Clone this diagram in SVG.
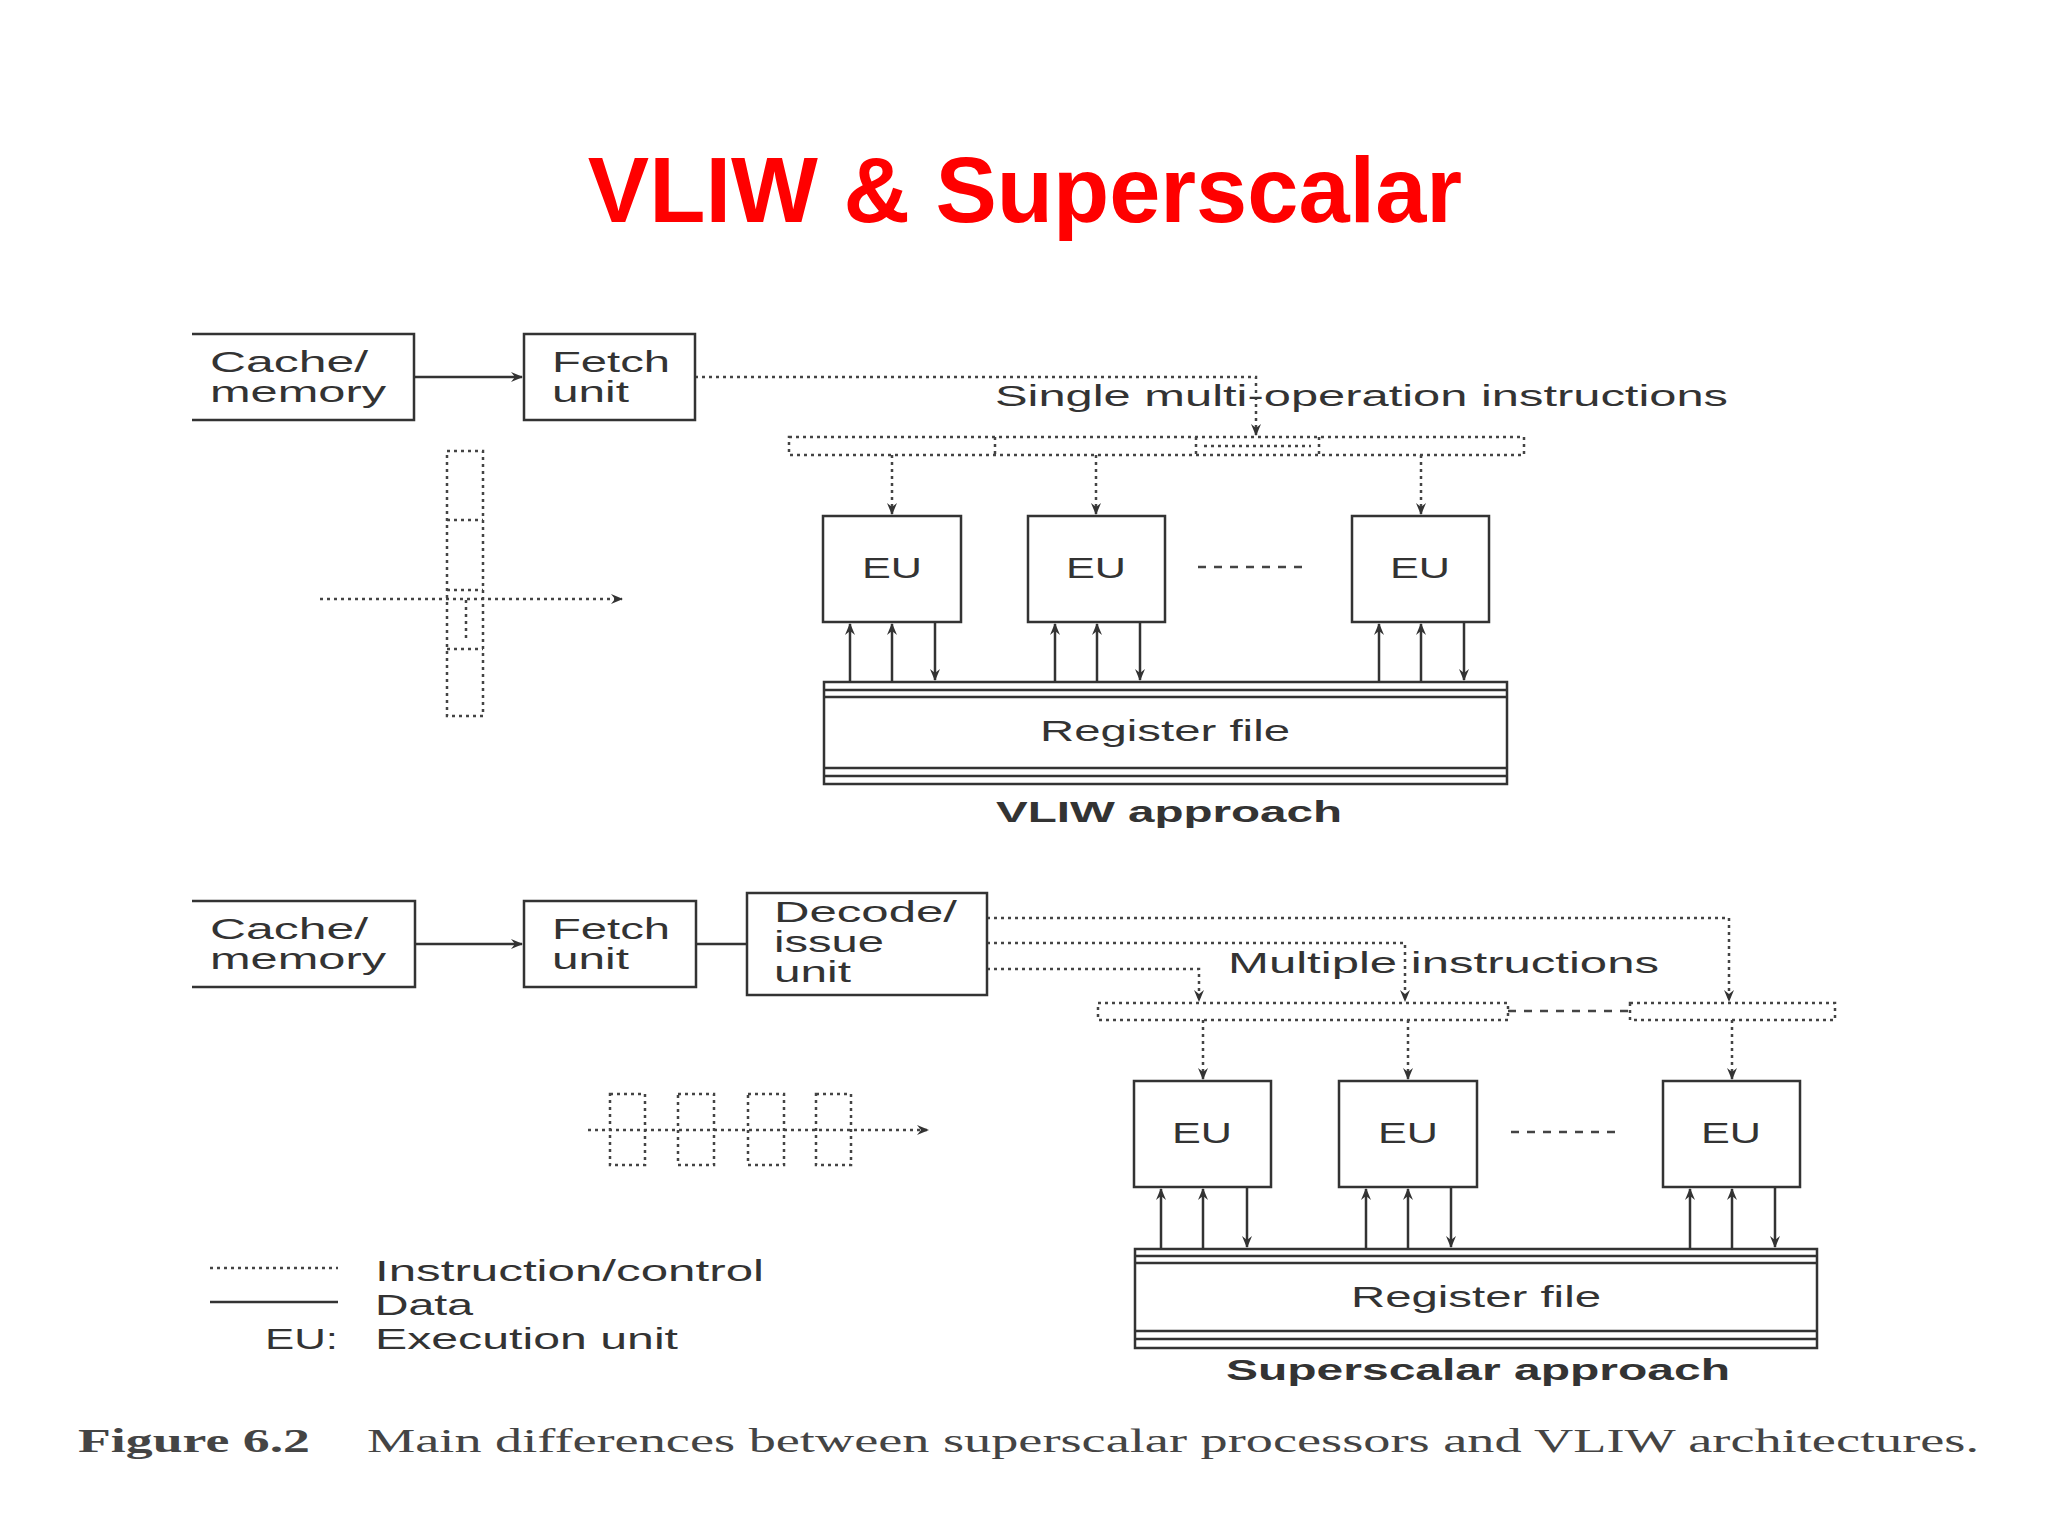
<svg xmlns="http://www.w3.org/2000/svg" width="2048" height="1536" viewBox="0 0 2048 1536">
<style>
.b{fill:none;stroke:#333;stroke-width:2.5}
.s{fill:none;stroke:#333;stroke-width:2.5}
.d{fill:none;stroke:#444;stroke-width:2.5;stroke-dasharray:3 4}
.t{font-family:"Liberation Sans",Arial,sans-serif;font-size:30px;fill:#333}
.bo{font-weight:bold}
</style>
<defs>
<marker id="a" markerWidth="12" markerHeight="10" refX="11" refY="5" orient="auto" markerUnits="userSpaceOnUse"><path d="M0,0 L12,5 L0,10 L4,5 Z" fill="#333"/></marker>
</defs>
<rect width="2048" height="1536" fill="#fff"/>
<text x="1025" y="222" text-anchor="middle" font-family="Liberation Sans,Arial,sans-serif" font-weight="bold" font-size="92" fill="#f00">VLIW &amp; Superscalar</text>

<g id="connectors">
<line class="s" x1="414" y1="377" x2="522" y2="377" marker-end="url(#a)"/>
<path class="d" d="M695,377 H1256 V435" marker-end="url(#a)"/>
<line class="d" x1="892" y1="455" x2="892" y2="514" marker-end="url(#a)"/>
<line class="d" x1="1096" y1="455" x2="1096" y2="514" marker-end="url(#a)"/>
<line class="d" x1="1421" y1="455" x2="1421" y2="514" marker-end="url(#a)"/>
<g class="s">
<line x1="850" y1="682" x2="850" y2="624" marker-end="url(#a)"/>
<line x1="892" y1="682" x2="892" y2="624" marker-end="url(#a)"/>
<line x1="935" y1="622" x2="935" y2="680" marker-end="url(#a)"/>
<line x1="1055" y1="682" x2="1055" y2="624" marker-end="url(#a)"/>
<line x1="1097" y1="682" x2="1097" y2="624" marker-end="url(#a)"/>
<line x1="1140" y1="622" x2="1140" y2="680" marker-end="url(#a)"/>
<line x1="1379" y1="682" x2="1379" y2="624" marker-end="url(#a)"/>
<line x1="1421" y1="682" x2="1421" y2="624" marker-end="url(#a)"/>
<line x1="1464" y1="622" x2="1464" y2="680" marker-end="url(#a)"/>
</g>
<line class="d" x1="1198" y1="567" x2="1309" y2="567" style="stroke-dasharray:8 8"/>
<line class="d" x1="320" y1="599" x2="622" y2="599" marker-end="url(#a)"/>

<line class="s" x1="415" y1="944" x2="522" y2="944" marker-end="url(#a)"/>
<line class="s" x1="696" y1="944" x2="747" y2="944"/>
<path class="d" d="M987,918 H1729 V1001" marker-end="url(#a)"/>
<path class="d" d="M987,943 H1405 V1001" marker-end="url(#a)"/>
<path class="d" d="M987,969 H1199 V1001" marker-end="url(#a)"/>
<line class="d" x1="1508" y1="1011" x2="1630" y2="1011" style="stroke-dasharray:8 8"/>
<line class="d" x1="1203" y1="1020" x2="1203" y2="1079" marker-end="url(#a)"/>
<line class="d" x1="1408" y1="1020" x2="1408" y2="1079" marker-end="url(#a)"/>
<line class="d" x1="1732" y1="1020" x2="1732" y2="1079" marker-end="url(#a)"/>
<g class="s">
<line x1="1161" y1="1249" x2="1161" y2="1189" marker-end="url(#a)"/>
<line x1="1203" y1="1249" x2="1203" y2="1189" marker-end="url(#a)"/>
<line x1="1247" y1="1187" x2="1247" y2="1247" marker-end="url(#a)"/>
<line x1="1366" y1="1249" x2="1366" y2="1189" marker-end="url(#a)"/>
<line x1="1408" y1="1249" x2="1408" y2="1189" marker-end="url(#a)"/>
<line x1="1451" y1="1187" x2="1451" y2="1247" marker-end="url(#a)"/>
<line x1="1690" y1="1249" x2="1690" y2="1189" marker-end="url(#a)"/>
<line x1="1732" y1="1249" x2="1732" y2="1189" marker-end="url(#a)"/>
<line x1="1775" y1="1187" x2="1775" y2="1247" marker-end="url(#a)"/>
</g>
<line class="d" x1="1511" y1="1132" x2="1620" y2="1132" style="stroke-dasharray:8 8"/>
<line class="d" x1="588" y1="1130" x2="928" y2="1130" marker-end="url(#a)"/>
</g>

<g id="cache1"><path class="b" d="M192,334 H414 V420 H192"/><text class="t" x="210" y="372" textLength="158" lengthAdjust="spacingAndGlyphs">Cache/</text><text class="t" x="210" y="402" textLength="176" lengthAdjust="spacingAndGlyphs">memory</text></g>
<g id="fetch1"><rect class="b" x="524" y="334" width="171" height="86"/><text class="t" x="552" y="372" textLength="118" lengthAdjust="spacingAndGlyphs">Fetch</text><text class="t" x="552" y="402" textLength="77" lengthAdjust="spacingAndGlyphs">unit</text></g>
<text class="t" x="995" y="406" textLength="733" lengthAdjust="spacingAndGlyphs">Single multi-operation instructions</text>
<g id="bar1"><rect class="d" x="789" y="437" width="735" height="18"/><line class="d" x1="995" y1="437" x2="995" y2="455"/><line class="d" x1="1196" y1="437" x2="1196" y2="455"/><line class="d" x1="1319" y1="437" x2="1319" y2="455"/><line class="d" x1="1204" y1="446" x2="1311" y2="446"/></g>
<g id="eu1"><rect class="b" x="823" y="516" width="138" height="106"/><text class="t" x="862" y="578" textLength="60" lengthAdjust="spacingAndGlyphs">EU</text></g>
<g id="eu2"><rect class="b" x="1028" y="516" width="137" height="106"/><text class="t" x="1066" y="578" textLength="60" lengthAdjust="spacingAndGlyphs">EU</text></g>
<g id="eu3"><rect class="b" x="1352" y="516" width="137" height="106"/><text class="t" x="1390" y="578" textLength="60" lengthAdjust="spacingAndGlyphs">EU</text></g>
<g id="reg1"><rect class="b" x="824" y="682" width="683" height="102"/><line class="s" x1="824" y1="690" x2="1507" y2="690"/><line class="s" x1="824" y1="697" x2="1507" y2="697"/><line class="s" x1="824" y1="768" x2="1507" y2="768"/><line class="s" x1="824" y1="776" x2="1507" y2="776"/><text class="t" x="1040" y="741" textLength="250" lengthAdjust="spacingAndGlyphs">Register file</text></g>
<text class="t bo" x="996" y="822" textLength="346" lengthAdjust="spacingAndGlyphs">VLIW approach</text>
<g id="pipe1"><rect class="d" x="447" y="451" width="36" height="265"/><line class="d" x1="447" y1="520" x2="483" y2="520"/><line class="d" x1="447" y1="590" x2="483" y2="590"/><line class="d" x1="447" y1="649" x2="483" y2="649"/><line class="d" x1="466" y1="600" x2="466" y2="640"/></g>

<g id="cache2"><path class="b" d="M192,901 H415 V987 H192"/><text class="t" x="210" y="939" textLength="158" lengthAdjust="spacingAndGlyphs">Cache/</text><text class="t" x="210" y="969" textLength="176" lengthAdjust="spacingAndGlyphs">memory</text></g>
<g id="fetch2"><rect class="b" x="524" y="901" width="172" height="86"/><text class="t" x="552" y="939" textLength="118" lengthAdjust="spacingAndGlyphs">Fetch</text><text class="t" x="552" y="969" textLength="77" lengthAdjust="spacingAndGlyphs">unit</text></g>
<g id="decode"><rect class="b" x="747" y="893" width="240" height="102"/><text class="t" x="774" y="922" font-size="28" textLength="183" lengthAdjust="spacingAndGlyphs">Decode/</text><text class="t" x="774" y="952" font-size="28" textLength="110" lengthAdjust="spacingAndGlyphs">issue</text><text class="t" x="774" y="982" font-size="28" textLength="77" lengthAdjust="spacingAndGlyphs">unit</text></g>
<text class="t" x="1228" y="973" textLength="431" lengthAdjust="spacingAndGlyphs">Multiple instructions</text>
<g id="bar2"><rect class="d" x="1098" y="1003" width="410" height="17"/><rect class="d" x="1630" y="1003" width="205" height="17"/></g>
<g id="eu4"><rect class="b" x="1134" y="1081" width="137" height="106"/><text class="t" x="1172" y="1143" textLength="60" lengthAdjust="spacingAndGlyphs">EU</text></g>
<g id="eu5"><rect class="b" x="1339" y="1081" width="138" height="106"/><text class="t" x="1378" y="1143" textLength="60" lengthAdjust="spacingAndGlyphs">EU</text></g>
<g id="eu6"><rect class="b" x="1663" y="1081" width="137" height="106"/><text class="t" x="1701" y="1143" textLength="60" lengthAdjust="spacingAndGlyphs">EU</text></g>
<g id="reg2"><rect class="b" x="1135" y="1249" width="682" height="99"/><line class="s" x1="1135" y1="1256" x2="1817" y2="1256"/><line class="s" x1="1135" y1="1263" x2="1817" y2="1263"/><line class="s" x1="1135" y1="1331" x2="1817" y2="1331"/><line class="s" x1="1135" y1="1339" x2="1817" y2="1339"/><text class="t" x="1351" y="1307" textLength="250" lengthAdjust="spacingAndGlyphs">Register file</text></g>
<text class="t bo" x="1226" y="1380" textLength="504" lengthAdjust="spacingAndGlyphs">Superscalar approach</text>
<g id="pipe2"><rect class="d" x="610" y="1094" width="35" height="71"/><rect class="d" x="678" y="1094" width="36" height="71"/><rect class="d" x="748" y="1094" width="36" height="71"/><rect class="d" x="816" y="1094" width="35" height="71"/></g>

<g id="legend">
<line class="d" x1="210" y1="1268" x2="338" y2="1268"/>
<line class="s" x1="210" y1="1302" x2="338" y2="1302"/>
<text class="t" x="375" y="1281" textLength="389" lengthAdjust="spacingAndGlyphs">Instruction/control</text>
<text class="t" x="375" y="1315" textLength="98" lengthAdjust="spacingAndGlyphs">Data</text>
<text class="t" x="265" y="1349" textLength="73" lengthAdjust="spacingAndGlyphs">EU:</text>
<text class="t" x="375" y="1349" textLength="303" lengthAdjust="spacingAndGlyphs">Execution unit</text>
</g>
<text x="78" y="1452" font-family="Liberation Serif,serif" font-weight="bold" font-size="34" fill="#444" textLength="232" lengthAdjust="spacingAndGlyphs">Figure 6.2</text>
<text x="367" y="1452" font-family="Liberation Serif,serif" font-size="34" fill="#444" textLength="1612" lengthAdjust="spacingAndGlyphs">Main differences between superscalar processors and VLIW architectures.</text>
</svg>
